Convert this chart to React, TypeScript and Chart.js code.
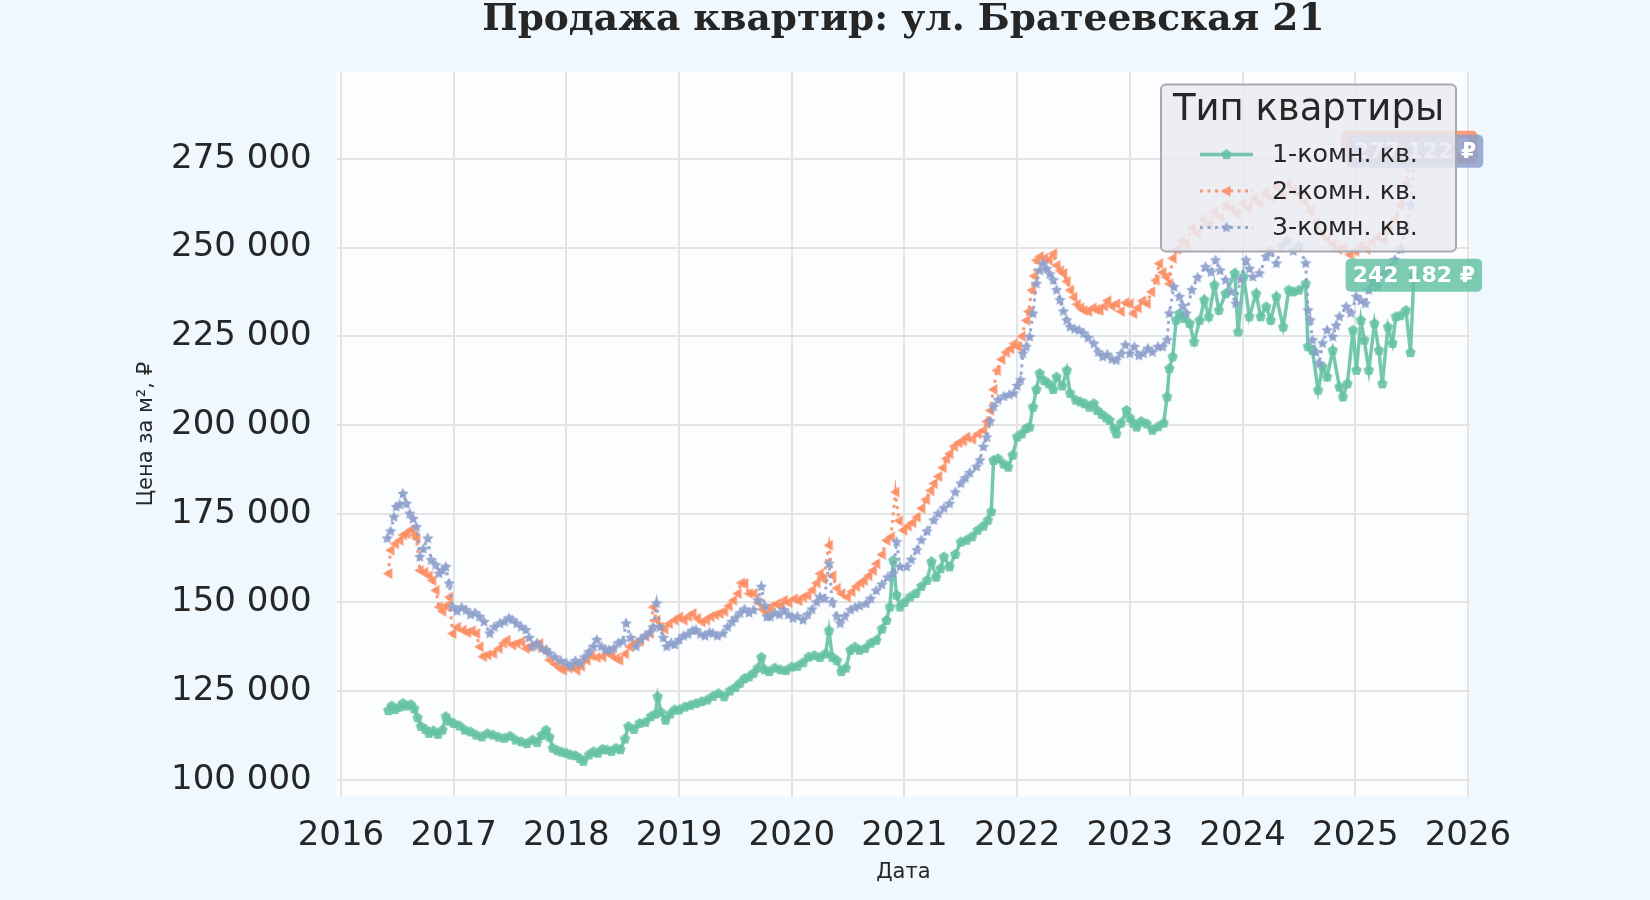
import React, { useEffect, useRef } from 'react';
import { Chart, registerables } from 'chart.js';

Chart.register(...registerables);

const chartTitle = 'Продажа квартир: ул. Братеевская 21';
const legendTitle = 'Тип квартиры';
const seriesNames = ['1-комн. кв.', '2-комн. кв.', '3-комн. кв.'];
const seriesColors = ['102,194,165', '252,141,98', '141,160,203'];
const xTicks = [2016, 2017, 2018, 2019, 2020, 2021, 2022, 2023, 2024, 2025, 2026];
const yTicks = [100000, 125000, 150000, 175000, 200000, 225000, 250000, 275000];

// [дата (доля года), цена за м²]
const oneRoom: [number, number][] = [
  [2016.42, 119500], [2016.45, 120800], [2016.48, 119800], [2016.52, 120500], [2016.55, 121500], [2016.58, 120800],
  [2016.62, 121200], [2016.65, 120000], [2016.68, 117500], [2016.71, 115000], [2016.75, 114200], [2016.78, 113100],
  [2016.82, 113800], [2016.86, 112800], [2016.9, 114000], [2016.93, 117800], [2016.96, 116500], [2017.0, 115900],
  [2017.05, 115200], [2017.1, 114000], [2017.15, 113500], [2017.2, 112600], [2017.25, 112100], [2017.3, 113000],
  [2017.35, 112600], [2017.4, 112000], [2017.45, 111700], [2017.5, 112300], [2017.55, 111200], [2017.6, 110700],
  [2017.65, 110200], [2017.7, 111200], [2017.74, 110500], [2017.78, 112500], [2017.82, 114000], [2017.85, 112000],
  [2017.88, 108900], [2017.92, 108200], [2017.96, 107800], [2018.0, 107500], [2018.04, 107000], [2018.08, 106800],
  [2018.12, 106000], [2018.15, 105200], [2018.2, 107000], [2018.24, 107900], [2018.28, 107500], [2018.32, 108600],
  [2018.36, 108400], [2018.4, 108000], [2018.44, 108900], [2018.48, 108500], [2018.52, 111500], [2018.55, 115000],
  [2018.6, 114200], [2018.65, 115900], [2018.7, 116200], [2018.75, 117800], [2018.79, 118500], [2018.81, 123400],
  [2018.84, 119000], [2018.88, 116800], [2018.92, 118500], [2018.96, 119700], [2019.0, 119700], [2019.05, 120500],
  [2019.1, 121000], [2019.15, 121500], [2019.2, 122000], [2019.25, 122500], [2019.3, 123500], [2019.35, 124300],
  [2019.4, 123400], [2019.45, 125000], [2019.5, 126000], [2019.54, 127200], [2019.58, 128500], [2019.62, 129000],
  [2019.66, 130000], [2019.7, 131500], [2019.73, 134500], [2019.76, 131000], [2019.8, 130500], [2019.85, 131500],
  [2019.9, 131000], [2019.95, 130800], [2020.0, 131800], [2020.05, 132000], [2020.1, 133000], [2020.15, 134600],
  [2020.2, 135000], [2020.25, 134500], [2020.3, 135500], [2020.33, 142000], [2020.36, 134500], [2020.4, 133600],
  [2020.44, 130500], [2020.48, 131500], [2020.52, 136500], [2020.56, 137400], [2020.6, 136500], [2020.65, 137000],
  [2020.7, 138500], [2020.75, 139300], [2020.8, 142500], [2020.84, 144900], [2020.87, 148700], [2020.9, 161800],
  [2020.93, 152000], [2020.96, 148700], [2021.0, 150000], [2021.05, 151500], [2021.1, 152500], [2021.15, 154500],
  [2021.2, 156200], [2021.24, 161400], [2021.28, 157100], [2021.32, 159500], [2021.35, 162800], [2021.4, 160000],
  [2021.45, 163500], [2021.5, 167000], [2021.55, 167500], [2021.6, 168500], [2021.65, 170300], [2021.7, 171500],
  [2021.74, 173100], [2021.77, 175500], [2021.79, 190000], [2021.83, 190500], [2021.88, 189000], [2021.92, 188100],
  [2021.96, 191500], [2022.0, 196600], [2022.04, 197500], [2022.08, 199000], [2022.11, 199400], [2022.14, 205000],
  [2022.17, 210000], [2022.2, 214500], [2022.24, 212500], [2022.28, 211600], [2022.32, 210000], [2022.35, 213500],
  [2022.4, 211000], [2022.44, 215400], [2022.47, 208900], [2022.52, 207000], [2022.56, 206500], [2022.6, 206000],
  [2022.64, 205000], [2022.68, 206000], [2022.71, 204100], [2022.75, 203000], [2022.79, 202000], [2022.82, 201300],
  [2022.86, 199000], [2022.88, 197500], [2022.92, 200500], [2022.97, 204100], [2023.0, 202000], [2023.03, 200500],
  [2023.06, 199400], [2023.1, 201000], [2023.15, 200300], [2023.2, 198500], [2023.25, 199500], [2023.3, 200500],
  [2023.33, 207900], [2023.35, 215900], [2023.38, 219200], [2023.41, 229500], [2023.44, 231400], [2023.48, 230000],
  [2023.53, 228600], [2023.57, 223400], [2023.62, 229500], [2023.66, 235200], [2023.7, 230500], [2023.75, 239400],
  [2023.79, 232300], [2023.85, 237000], [2023.93, 242700], [2023.96, 226200], [2024.01, 241700], [2024.06, 230500],
  [2024.12, 237000], [2024.16, 230500], [2024.21, 233300], [2024.25, 229500], [2024.3, 236100], [2024.36, 227600],
  [2024.41, 238000], [2024.45, 237500], [2024.5, 238000], [2024.56, 239800], [2024.58, 222000], [2024.62, 221000],
  [2024.67, 209800], [2024.71, 216400], [2024.75, 213500], [2024.8, 221000], [2024.86, 210700], [2024.89, 207900],
  [2024.93, 211600], [2024.98, 226700], [2025.01, 215400], [2025.05, 229500], [2025.08, 223900], [2025.12, 215400],
  [2025.17, 228600], [2025.21, 221000], [2025.24, 211600], [2025.29, 227600], [2025.33, 223000], [2025.36, 230500],
  [2025.4, 230800], [2025.45, 232300], [2025.49, 220400], [2025.52, 242182],
];

const twoRoom: [number, number][] = [
  [2016.42, 158100], [2016.44, 164700], [2016.48, 166500], [2016.52, 167500], [2016.55, 169000], [2016.58, 169400],
  [2016.62, 170500], [2016.65, 169000], [2016.67, 168000], [2016.7, 159000], [2016.74, 158500], [2016.78, 157500],
  [2016.81, 156200], [2016.84, 153400], [2016.87, 148700], [2016.9, 147500], [2016.93, 149000], [2016.96, 151500],
  [2016.99, 141200], [2017.03, 143000], [2017.08, 142200], [2017.12, 141500], [2017.16, 142000], [2017.2, 141200],
  [2017.23, 137500], [2017.26, 134700], [2017.3, 135200], [2017.35, 135600], [2017.4, 137000], [2017.44, 138500],
  [2017.47, 139400], [2017.52, 138000], [2017.56, 138400], [2017.6, 139000], [2017.64, 137000], [2017.67, 137500],
  [2017.72, 138000], [2017.76, 138400], [2017.8, 136500], [2017.85, 133700], [2017.9, 132500], [2017.94, 131500],
  [2017.97, 130900], [2018.02, 131500], [2018.06, 132000], [2018.09, 130900], [2018.13, 132000], [2018.18, 133700],
  [2018.22, 135000], [2018.27, 134500], [2018.32, 134700], [2018.36, 136000], [2018.4, 135000], [2018.44, 134200],
  [2018.47, 133700], [2018.52, 135500], [2018.56, 137500], [2018.6, 138500], [2018.65, 139000], [2018.7, 140500],
  [2018.74, 141200], [2018.77, 148700], [2018.8, 145000], [2018.83, 143100], [2018.87, 142500], [2018.91, 144000],
  [2018.96, 145000], [2019.0, 145900], [2019.04, 145000], [2019.08, 146000], [2019.12, 146900], [2019.16, 145500],
  [2019.2, 144500], [2019.24, 145000], [2019.28, 146000], [2019.32, 146500], [2019.36, 146900], [2019.4, 147500],
  [2019.44, 149000], [2019.48, 150600], [2019.52, 152500], [2019.55, 155500], [2019.58, 155300], [2019.62, 152500],
  [2019.66, 152500], [2019.7, 150000], [2019.74, 148000], [2019.78, 146900], [2019.81, 148700], [2019.86, 149500],
  [2019.9, 149000], [2019.93, 150600], [2019.97, 150000], [2020.02, 151000], [2020.06, 150500], [2020.1, 151500],
  [2020.14, 152000], [2020.18, 153500], [2020.22, 155500], [2020.25, 158100], [2020.28, 156500], [2020.33, 166100],
  [2020.36, 157500], [2020.4, 154000], [2020.44, 152500], [2020.49, 151500], [2020.53, 153000], [2020.57, 154500],
  [2020.61, 155500], [2020.64, 156200], [2020.68, 157500], [2020.72, 159000], [2020.75, 160900], [2020.8, 163500],
  [2020.84, 167500], [2020.88, 168500], [2020.92, 181100], [2020.95, 173000], [2020.99, 170300], [2021.03, 171500],
  [2021.07, 172500], [2021.11, 174000], [2021.15, 176500], [2021.19, 179000], [2021.23, 181500], [2021.26, 183500],
  [2021.3, 185500], [2021.34, 188000], [2021.37, 190500], [2021.4, 191900], [2021.44, 194000], [2021.48, 195000],
  [2021.52, 195500], [2021.55, 196600], [2021.6, 196000], [2021.65, 197500], [2021.7, 198500], [2021.73, 201000],
  [2021.76, 204100], [2021.79, 210000], [2021.82, 215400], [2021.86, 218500], [2021.9, 220500], [2021.94, 221500],
  [2021.97, 222900], [2022.01, 222000], [2022.04, 225000], [2022.08, 229500], [2022.1, 232000], [2022.13, 238000],
  [2022.15, 242000], [2022.17, 246400], [2022.2, 247500], [2022.24, 247000], [2022.28, 246500], [2022.32, 248300],
  [2022.35, 245000], [2022.38, 243500], [2022.41, 242700], [2022.44, 240500], [2022.47, 238000], [2022.5, 236000],
  [2022.53, 234000], [2022.56, 233000], [2022.59, 232300], [2022.63, 232000], [2022.67, 233000], [2022.7, 232500],
  [2022.73, 232300], [2022.77, 233500], [2022.8, 235000], [2022.84, 233500], [2022.88, 234200], [2022.92, 232000],
  [2022.96, 234500], [2023.0, 234200], [2023.03, 231400], [2023.07, 233000], [2023.11, 235000], [2023.15, 234200],
  [2023.19, 237500], [2023.23, 240800], [2023.26, 245500], [2023.29, 243000], [2023.32, 241700], [2023.35, 239800],
  [2023.38, 247000], [2023.42, 249500], [2023.46, 252000], [2023.5, 251000], [2023.55, 255500], [2023.6, 254000],
  [2023.65, 258000], [2023.7, 256500], [2023.75, 260000], [2023.8, 258500], [2023.85, 262000], [2023.9, 261000],
  [2023.95, 259500], [2024.0, 262500], [2024.05, 261000], [2024.1, 264000], [2024.15, 262500], [2024.2, 265500],
  [2024.25, 264000], [2024.3, 267000], [2024.35, 265000], [2024.4, 268000], [2024.45, 266500], [2024.5, 265000],
  [2024.55, 263000], [2024.6, 260500], [2024.65, 257000], [2024.7, 254000], [2024.75, 252500], [2024.8, 251000],
  [2024.85, 249500], [2024.9, 250000], [2024.95, 248000], [2025.0, 249000], [2025.05, 250500], [2025.1, 249500],
  [2025.15, 251500], [2025.2, 253000], [2025.25, 252000], [2025.3, 255000], [2025.35, 258000], [2025.4, 262000],
  [2025.45, 268000], [2025.48, 278300],
];

const threeRoom: [number, number][] = [
  [2016.41, 168000], [2016.44, 170000], [2016.47, 174000], [2016.49, 176900], [2016.52, 177500], [2016.55, 180600],
  [2016.58, 177800], [2016.61, 175000], [2016.64, 173500], [2016.67, 171200], [2016.7, 162800], [2016.73, 165000],
  [2016.77, 168000], [2016.8, 161900], [2016.84, 160500], [2016.87, 158100], [2016.9, 159000], [2016.93, 160000],
  [2016.96, 155300], [2016.99, 148700], [2017.03, 147500], [2017.07, 148500], [2017.11, 147800], [2017.15, 146500],
  [2017.19, 147000], [2017.23, 145900], [2017.27, 144500], [2017.32, 141200], [2017.36, 143000], [2017.41, 144000],
  [2017.45, 144500], [2017.49, 145500], [2017.52, 145000], [2017.56, 144000], [2017.6, 143000], [2017.64, 142200],
  [2017.67, 140000], [2017.7, 137500], [2017.74, 138500], [2017.78, 137000], [2017.82, 136500], [2017.85, 135600],
  [2017.9, 134500], [2017.95, 133500], [2018.0, 132800], [2018.04, 132000], [2018.08, 133500], [2018.12, 132800],
  [2018.16, 134500], [2018.2, 136000], [2018.24, 137500], [2018.27, 139400], [2018.31, 137500], [2018.35, 136500],
  [2018.38, 136500], [2018.42, 137000], [2018.46, 138500], [2018.5, 139000], [2018.53, 144000], [2018.57, 140000],
  [2018.62, 137500], [2018.66, 139500], [2018.7, 140500], [2018.74, 141500], [2018.77, 143000], [2018.8, 149700],
  [2018.83, 143000], [2018.86, 140000], [2018.89, 137500], [2018.93, 138500], [2018.96, 138000], [2019.0, 139400],
  [2019.04, 140500], [2019.08, 141000], [2019.12, 142000], [2019.15, 142200], [2019.19, 141000], [2019.23, 140500],
  [2019.27, 141500], [2019.3, 141200], [2019.34, 140500], [2019.39, 141200], [2019.43, 143000], [2019.47, 144500],
  [2019.5, 145500], [2019.54, 146900], [2019.58, 148000], [2019.62, 147000], [2019.66, 147800], [2019.7, 150500],
  [2019.73, 154400], [2019.76, 149000], [2019.78, 145900], [2019.81, 145900], [2019.85, 147000], [2019.89, 146500],
  [2019.93, 147800], [2019.97, 146500], [2020.01, 145500], [2020.05, 146000], [2020.1, 145000], [2020.14, 146500],
  [2020.18, 148000], [2020.22, 150000], [2020.25, 151500], [2020.29, 151000], [2020.33, 160900], [2020.36, 150000],
  [2020.4, 146000], [2020.43, 144000], [2020.47, 146000], [2020.52, 147800], [2020.56, 148500], [2020.6, 149000],
  [2020.66, 149600], [2020.7, 151000], [2020.75, 153300], [2020.8, 155000], [2020.85, 157000], [2020.9, 158100],
  [2020.93, 167000], [2020.96, 160000], [2021.02, 160000], [2021.06, 162000], [2021.11, 164700], [2021.15, 167500],
  [2021.2, 170000], [2021.26, 173100], [2021.3, 175000], [2021.35, 176500], [2021.4, 177800], [2021.45, 181000],
  [2021.5, 183500], [2021.54, 185000], [2021.58, 186500], [2021.64, 188200], [2021.67, 190000], [2021.7, 193800],
  [2021.73, 196500], [2021.76, 201000], [2021.79, 205100], [2021.83, 207000], [2021.88, 208000], [2021.93, 208500],
  [2021.97, 208900], [2022.0, 211000], [2022.03, 212600], [2022.05, 220100], [2022.08, 222000], [2022.11, 224800],
  [2022.14, 231400], [2022.17, 239800], [2022.2, 243500], [2022.23, 245500], [2022.26, 244000], [2022.29, 242500],
  [2022.32, 240800], [2022.35, 238000], [2022.38, 235200], [2022.41, 232000], [2022.44, 229500], [2022.47, 227600],
  [2022.51, 227000], [2022.55, 226700], [2022.59, 225800], [2022.63, 224500], [2022.68, 222900], [2022.72, 220500],
  [2022.76, 219200], [2022.8, 219800], [2022.84, 218500], [2022.88, 218200], [2022.92, 220000], [2022.96, 222500],
  [2023.0, 220100], [2023.04, 222000], [2023.08, 219500], [2023.12, 220100], [2023.16, 221500], [2023.2, 220500],
  [2023.25, 222000], [2023.29, 222000], [2023.33, 223900], [2023.35, 231400], [2023.39, 238900], [2023.44, 236100],
  [2023.47, 233500], [2023.5, 231400], [2023.55, 238000], [2023.6, 241500], [2023.67, 244500], [2023.72, 243000],
  [2023.76, 246400], [2023.8, 243500], [2023.85, 240800], [2023.9, 237500], [2023.94, 234200], [2023.98, 241000],
  [2024.03, 246400], [2024.06, 244000], [2024.09, 241700], [2024.15, 242700], [2024.21, 247400], [2024.25, 249000],
  [2024.3, 245500], [2024.35, 250500], [2024.4, 252000], [2024.45, 249000], [2024.5, 250500], [2024.56, 245500],
  [2024.58, 232300], [2024.6, 229500], [2024.62, 223900], [2024.65, 220500], [2024.68, 217300], [2024.71, 223000],
  [2024.75, 226700], [2024.8, 224800], [2024.83, 228000], [2024.86, 230500], [2024.92, 233300], [2024.96, 231500],
  [2025.01, 236100], [2025.05, 235000], [2025.09, 234200], [2025.12, 238000], [2025.16, 240500], [2025.2, 239000],
  [2025.25, 242500], [2025.3, 244000], [2025.35, 246500], [2025.4, 249500], [2025.45, 255000], [2025.49, 262000],
  [2025.53, 277122],
];

const seriesData = [oneRoom, twoRoom, threeRoom];
const markerShapes = ['pentagon', 'triangleLeft', 'star'];

const FONT = 'DejaVu Sans';
const TEXT = '#262626';

const fmt = (n: number) => Math.round(n).toString().replace(/\B(?=(\d{3})+(?!\d))/g, ' ');

function makeMarker(shape: string, color: string, r: number) {
  const c = document.createElement('canvas');
  const s = Math.ceil(r * 2 + 2);
  c.width = s;
  c.height = s;
  const g = c.getContext('2d')!;
  g.translate(s / 2, s / 2);
  g.beginPath();
  if (shape === 'pentagon') {
    for (let i = 0; i < 5; i++) {
      const a = -Math.PI / 2 + (i * 2 * Math.PI) / 5;
      g.lineTo(Math.cos(a) * r, Math.sin(a) * r);
    }
  } else if (shape === 'triangleLeft') {
    g.moveTo(-r, 0);
    g.lineTo(r * 0.7, -r);
    g.lineTo(r * 0.7, r);
  } else {
    for (let i = 0; i < 10; i++) {
      const a = -Math.PI / 2 + (i * Math.PI) / 5;
      const rr = i % 2 === 0 ? r : r * 0.5;
      g.lineTo(Math.cos(a) * rr, Math.sin(a) * rr);
    }
  }
  g.closePath();
  g.fillStyle = color;
  g.fill();
  return c;
}

function roundRect(ctx: CanvasRenderingContext2D, x: number, y: number, w: number, h: number, r: number) {
  ctx.beginPath();
  ctx.moveTo(x + r, y);
  ctx.arcTo(x + w, y, x + w, y + h, r);
  ctx.arcTo(x + w, y + h, x, y + h, r);
  ctx.arcTo(x, y + h, x, y, r);
  ctx.arcTo(x, y, x + w, y, r);
  ctx.closePath();
}

export default function App() {
  const ref = useRef<HTMLCanvasElement>(null);

  useEffect(() => {
    document.body.style.margin = '0';
    document.body.style.background = '#f0f8ff';
    if (!ref.current) return;

    const markers = markerShapes.map((s, i) => makeMarker(s, `rgba(${seriesColors[i]},0.9)`, s === 'star' ? 6 : 5.5));

    const decor = {
      id: 'decor',
      beforeDraw(chart: any) {
        const { ctx, chartArea: a, width, height } = chart;
        ctx.save();
        ctx.fillStyle = '#f0f8ff';
        ctx.fillRect(0, 0, width, height);
        ctx.fillStyle = '#fcfdff';
        ctx.fillRect(a.left, a.top, a.right - a.left, a.bottom - a.top);
        ctx.restore();
      },
      afterDraw(chart: any) {
        const { ctx, chartArea: a, scales } = chart;
        ctx.save();
        // заголовок
        ctx.font = `bold 37.5px "DejaVu Serif"`;
        ctx.fillStyle = TEXT;
        ctx.textAlign = 'center';
        ctx.textBaseline = 'alphabetic';
        ctx.fillText(chartTitle, (a.left + a.right) / 2, 29.5);

        // подписи последних значений
        ctx.font = `bold 22px "${FONT}"`;
        ctx.textBaseline = 'middle';
        [1, 2, 0].forEach((i) => {
          const last = seriesData[i][seriesData[i].length - 1];
          const px = scales.x.getPixelForValue(last[0]);
          const py = scales.y.getPixelForValue(last[1]);
          const text = `${fmt(last[1])} ₽`;
          const w = ctx.measureText(text).width + 14;
          const h = 33;
          roundRect(ctx, px - w / 2, py - h / 2, w, h, 5);
          ctx.fillStyle = `rgba(${seriesColors[i]},0.85)`;
          ctx.fill();
          ctx.fillStyle = '#ffffff';
          ctx.fillText(text, px, py + 1);
        });

        // легенда
        const lw = 295;
        const lh = 167;
        const lx = a.right - 14 - lw;
        const ly = a.top + 13;
        roundRect(ctx, lx, ly, lw, lh, 5);
        ctx.fillStyle = 'rgba(234,234,242,0.85)';
        ctx.fill();
        ctx.lineWidth = 2;
        ctx.strokeStyle = '#a8a8ad';
        ctx.stroke();
        ctx.fillStyle = TEXT;
        ctx.font = `37px "${FONT}"`;
        ctx.textAlign = 'center';
        ctx.fillText(legendTitle, lx + lw / 2, ly + 26);
        ctx.font = `25.3px "${FONT}"`;
        ctx.textAlign = 'left';
        seriesNames.forEach((name, i) => {
          const ry = ly + 70 + i * 36.5;
          ctx.beginPath();
          ctx.strokeStyle = `rgba(${seriesColors[i]},0.9)`;
          ctx.lineWidth = i === 0 ? 3.5 : 3;
          ctx.setLineDash(i === 0 ? [] : [3, 4.5]);
          ctx.moveTo(lx + 39, ry);
          ctx.lineTo(lx + 92, ry);
          ctx.stroke();
          ctx.setLineDash([]);
          const m = markers[i];
          ctx.drawImage(m, lx + 65.5 - m.width / 2, ry - m.height / 2);
          ctx.fillStyle = TEXT;
          ctx.fillText(name, lx + 111, ry + 1);
        });
        ctx.restore();
      },
    };

    const datasets = seriesData.map((d, i) => ({
      label: seriesNames[i],
      data: d.map(([x, y]) => ({ x, y })),
      borderColor: `rgba(${seriesColors[i]},0.9)`,
      backgroundColor: `rgba(${seriesColors[i]},0.9)`,
      borderWidth: i === 0 ? 3.5 : 3,
      borderDash: i === 0 ? [] : [3, 4.5],
      borderCapStyle: 'butt' as const,
      pointStyle: markers[i],
      pointRadius: 5,
      pointHoverRadius: 5,
      tension: 0,
      fill: false,
      order: 2 - i,
    }));

    const chart = new Chart(ref.current, {
      type: 'line',
      data: { datasets },
      options: {
        animation: false,
        responsive: false,
        layout: { padding: { top: 71.6, right: 180, left: 0, bottom: 0 } },
        plugins: { legend: { display: false }, tooltip: { enabled: false }, title: { display: false } },
        scales: {
          x: {
            type: 'linear',
            min: 2015.962,
            max: 2026.018,
            afterBuildTicks: (s: any) => { s.ticks = xTicks.map((v) => ({ value: v })); },
            afterFit: (s: any) => { s.height = 900 - 796.6; },
            grid: { color: '#e4e4e4', lineWidth: 2, drawTicks: false },
            border: { display: false },
            ticks: {
              font: { family: FONT, size: 34 },
              color: TEXT,
              padding: 19,
              maxRotation: 0,
              autoSkip: false,
              callback: (v: any) => String(v),
            },
            title: {
              display: true,
              text: 'Дата',
              font: { family: FONT, size: 21 },
              color: TEXT,
              padding: { top: 0, bottom: 15 },
            },
          },
          y: {
            min: 95265,
            max: 299600,
            afterBuildTicks: (s: any) => { s.ticks = yTicks.map((v) => ({ value: v })); },
            afterFit: (s: any) => { s.width = 336.7; },
            grid: { color: '#e4e4e4', lineWidth: 2, drawTicks: false },
            border: { display: false },
            ticks: {
              font: { family: FONT, size: 34 },
              color: TEXT,
              padding: 25,
              callback: (v: any) => fmt(Number(v)),
            },
            title: {
              display: true,
              text: 'Цена за м², ₽',
              font: { family: FONT, size: 21 },
              color: TEXT,
              padding: { top: 134, bottom: 0 },
            },
          },
        },
      },
      plugins: [decor],
    });
    return () => chart.destroy();
  }, []);

  return <canvas ref={ref} width={1650} height={900} style={{ display: 'block' }} />;
}
